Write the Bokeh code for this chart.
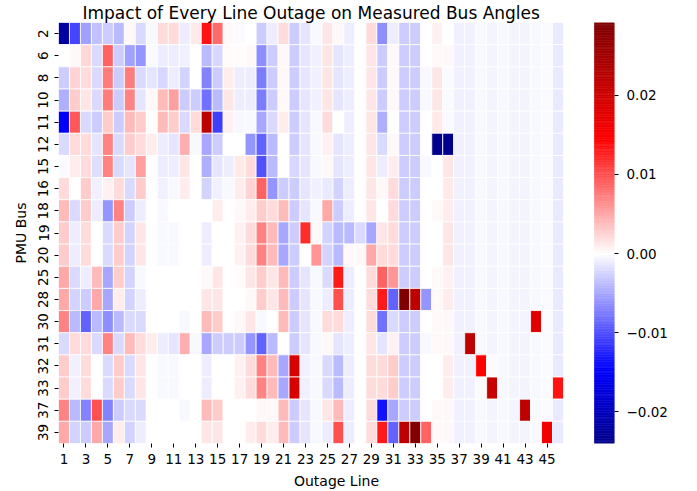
import numpy as np
from bokeh.plotting import figure
from bokeh.models import (LinearColorMapper, FixedTicker, ColumnDataSource,
                          Range1d, LinearAxis)
from bokeh.embed import file_html
from bokeh.resources import INLINE

# ---------------- data ----------------
pmu_buses = ["2", "6", "8", "10", "11", "12", "15", "16", "18", "19",
             "20", "25", "28", "30", "31", "32", "33", "37", "39"]
outage_lines = list(range(1, 47))
x_tick_values = list(range(1, 46, 2))
cbar_ticks = [-0.02, -0.01, 0.0, 0.01, 0.02]
cbar_tick_labels = ["\u22120.02", "\u22120.01", "0.00", "0.01", "0.02"]

tail = [-0.0008, -0.0008, -0.0004, -0.0006, -0.0004, -0.0007, -0.0007, -0.0004, -0.0003, -0.0012]

bus_2 = [-0.022, -0.0105, -0.0055, -0.0035, -0.003, -0.004, 0.0005, -0.002, -0.0005, 0.002,
         0.002, -0.001, 0.0012, 0.0135, 0.0085, 0.0005, -0.0002, 0.0, -0.003, -0.001,
         0.002, -0.003, -0.0015, -0.0005, 0.0015, 0.0005, -0.001, 0.0, 0.002, -0.0065,
         -0.001, -0.003, -0.003, 0.0, 0.0008, 0.0] + tail
bus_6 = [0.0, 0.0005, 0.0022, -0.002, 0.009, -0.003, -0.0055, -0.006, -0.0003, -0.001,
         -0.001, -0.0008, 0.0, -0.004, -0.0022, 0.0003, 0.0003, 0.0005, -0.0065, -0.003,
         0.0005, -0.003, -0.0015, -0.0008, 0.0015, -0.0015, -0.001, 0.0, 0.0015, -0.003,
         0.0005, -0.003, -0.003, 0.0, 0.0005, 0.0005] + tail
bus_8 = [-0.003, 0.0025, 0.002, -0.002, 0.0075, -0.003, 0.0075, -0.002, -0.0015, -0.0022,
         -0.001, -0.0025, 0.0, -0.007, -0.003, 0.001, -0.001, -0.001, -0.0075, -0.003,
         0.0005, -0.003, -0.0015, -0.0008, 0.0015, -0.0015, -0.001, 0.0, 0.0015, -0.003,
         0.0005, -0.003, -0.003, -0.0005, 0.0015, -0.0002] + tail
bus_10 = [-0.0045, 0.003, 0.0015, -0.002, 0.0075, -0.003, 0.007, -0.0015, 0.0005, 0.004,
          0.0055, -0.003, -0.003, -0.008, -0.004, 0.0015, -0.001, -0.001, -0.0075, -0.003,
          0.0005, -0.003, -0.0015, -0.0008, 0.0015, -0.0015, -0.001, 0.0, 0.0015, -0.003,
          0.0005, -0.003, -0.003, -0.0005, 0.0015, -0.0003] + tail
bus_11 = [-0.015, 0.0095, -0.002, -0.003, 0.003, -0.003, 0.004, 0.003, 0.0, 0.004,
          0.003, -0.002, 0.002, 0.0225, -0.011, 0.0008, -0.0005, -0.0005, -0.005, -0.002,
          0.001, -0.003, -0.0015, -0.0005, 0.002, 0.0, -0.001, 0.0, 0.0015, -0.0045,
          0.0, -0.003, -0.003, 0.0, 0.0012, -0.0002] + tail
bus_12 = [-0.002, 0.002, 0.002, -0.0015, 0.007, -0.002, 0.003, 0.002, 0.001, -0.001,
          -0.0015, 0.0045, -0.0005, -0.005, -0.003, 0.0, 0.0, -0.006, -0.009, -0.004,
          0.0, -0.003, -0.0015, -0.0005, 0.0008, -0.0015, -0.001, 0.0, 0.0015, -0.002,
          0.0005, -0.003, -0.003, 0.0, -0.024, -0.0236] + tail
bus_15 = [-0.0003, 0.001, 0.002, -0.0018, 0.007, -0.002, -0.0015, 0.0055, 0.0, -0.001,
          -0.001, 0.0015, 0.0, -0.0045, -0.0015, -0.001, 0.0012, 0.002, -0.01, -0.004,
          0.0, -0.0022, -0.0015, -0.0005, 0.0005, -0.0015, -0.001, 0.0, 0.0015, -0.001,
          0.001, -0.003, -0.003, -0.0005, 0.0, 0.0015] + tail
bus_16 = [0.002, 0.0, 0.003, -0.0008, 0.0008, 0.002, -0.002, 0.003, 0.0, -0.0008,
          -0.0005, 0.001, 0.0, -0.0025, -0.0008, -0.0005, 0.001, 0.0025, 0.009, -0.006,
          -0.003, -0.003, -0.0015, -0.0008, -0.0012, -0.0025, -0.001, 0.0, 0.0015, 0.0005,
          0.002, -0.003, -0.003, 0.0, 0.0, 0.0012] + tail
bus_18 = [0.004, -0.002, 0.003, -0.001, -0.006, 0.007, -0.003, -0.001, 0.0, -0.0005,
          0.0, 0.0, 0.0, 0.0, 0.001, 0.0, 0.0005, 0.001, 0.003, 0.002,
          0.004, -0.003, -0.0015, -0.0005, 0.005, -0.003, -0.001, 0.0, 0.0015, 0.0,
          0.002, -0.003, -0.003, 0.0, 0.0005, 0.001] + tail
bus_19 = [0.003, -0.001, 0.002, 0.0, -0.002, 0.003, -0.0025, 0.0015, 0.0, -0.0005,
          -0.0005, 0.0, 0.0, -0.001, 0.0, 0.0, 0.0008, 0.002, 0.007, 0.004,
          -0.005, -0.003, 0.012, 0.0005, -0.0025, -0.004, -0.004, -0.002, -0.005, 0.0015,
          0.002, -0.003, -0.003, 0.0, 0.0, 0.0015] + tail
bus_20 = [0.003, -0.001, 0.002, 0.0, -0.002, 0.003, -0.0025, 0.0015, 0.0, -0.0005,
          -0.0005, 0.0, 0.0, -0.001, 0.0, 0.0, 0.0008, 0.002, 0.007, 0.004,
          -0.005, -0.003, 0.0, 0.006, -0.0025, -0.004, 0.0005, 0.0005, 0.005, 0.002,
          0.002, -0.003, -0.003, 0.0, 0.0, 0.0015] + tail
bus_25 = [0.005, -0.002, -0.001, 0.004, -0.005, 0.003, -0.0025, -0.0005, 0.0, 0.0,
          0.0, 0.0, 0.0, 0.0005, 0.0015, 0.0, 0.0003, 0.0015, 0.003, 0.0015,
          0.004, -0.003, -0.0015, -0.0005, -0.002, 0.013, -0.001, 0.0, 0.002, 0.009,
          0.006, -0.003, -0.003, 0.0, 0.0005, 0.0008] + tail
bus_28 = [0.005, -0.0025, -0.003, 0.005, -0.005, 0.001, -0.0025, -0.001, 0.0, 0.0,
          0.0, 0.0, 0.0, 0.0015, 0.0015, 0.0, 0.0, 0.0005, 0.003, 0.0015,
          0.004, -0.003, -0.0015, -0.0005, -0.001, 0.01, -0.001, 0.0, 0.002, 0.013,
          -0.009, 0.0292, 0.022, -0.006, 0.0005, 0.001] + tail
bus_30 = [0.007, -0.004, -0.009, -0.004, -0.0065, -0.004, -0.002, -0.002, 0.0, 0.0,
          0.0, -0.0005, 0.0, 0.004, 0.003, 0.0, 0.0005, 0.0015, -0.0005, 0.0,
          0.004, -0.003, -0.0015, -0.0005, 0.002, 0.002, -0.001, 0.0, 0.002, -0.008,
          -0.002, -0.003, -0.003, 0.0, 0.0005, 0.0005,
          -0.0008, -0.0008, -0.0004, -0.0006, -0.0004, -0.0007, -0.0007, 0.018, -0.0003, -0.0012]
bus_31 = [-0.002, 0.002, 0.002, -0.002, 0.007, -0.002, 0.004, 0.002, 0.001, -0.001,
          -0.0015, 0.0045, -0.0005, -0.005, -0.003, -0.003, -0.003, -0.006, -0.009, -0.004,
          0.0, -0.003, -0.0015, -0.0005, 0.0005, -0.0015, -0.001, 0.0, 0.0015, -0.0015,
          0.0008, -0.003, -0.003, -0.0005, 0.0005, 0.0005,
          -0.0008, 0.022, -0.0004, -0.0006, -0.0004, -0.0007, -0.0007, -0.0004, -0.0003, -0.0012]
bus_32 = [0.003, -0.0008, 0.002, 0.0, -0.002, 0.003, -0.002, 0.0015, 0.0, -0.0005,
          -0.0005, 0.0, 0.0, -0.001, 0.0, 0.0, 0.0008, 0.002, 0.007, 0.004,
          -0.005, 0.019, -0.0008, -0.0005, -0.002, -0.004, -0.001, 0.0, 0.002, 0.002,
          0.003, -0.003, -0.003, 0.0, 0.0, 0.001,
          -0.0008, -0.0008, 0.0146, -0.0002, -0.0004, -0.0007, -0.0007, -0.0004, -0.0003, -0.0012]
bus_33 = [0.003, -0.0008, 0.002, 0.0, -0.002, 0.003, -0.002, 0.0015, 0.0, -0.0005,
          -0.0005, 0.0, 0.0, -0.001, 0.0, 0.0, 0.0008, 0.002, 0.007, 0.004,
          -0.005, 0.019, -0.0008, -0.0005, -0.002, -0.004, -0.001, 0.0, 0.002, 0.002,
          0.003, -0.003, -0.003, 0.0, 0.0, 0.001,
          -0.0008, -0.0008, -0.0002, 0.021, -0.0004, -0.0007, -0.0007, -0.0004, -0.0003, 0.0135]
bus_37 = [0.007, -0.004, -0.007, 0.01, -0.007, -0.003, -0.002, -0.002, 0.0, 0.0,
          0.0, -0.0005, 0.0, 0.004, 0.003, 0.0, 0.0, 0.0, 0.0005, 0.0005,
          0.004, -0.003, -0.0015, -0.0005, 0.0015, 0.004, -0.001, 0.0, 0.002, -0.0135,
          -0.005, -0.003, -0.003, 0.0, 0.0005, 0.0005,
          -0.0008, -0.0008, -0.0004, -0.0006, -0.0004, -0.0007, 0.022, -0.0004, -0.0003, -0.0012]
bus_39 = [0.005, -0.0025, -0.003, 0.005, -0.005, 0.001, -0.0025, -0.001, 0.0, 0.0,
          0.0, 0.0, 0.0, 0.0015, 0.0015, 0.0, 0.0, 0.001, 0.002, 0.001,
          0.004, -0.003, -0.0015, -0.0005, -0.001, 0.01, -0.001, 0.0, 0.002, 0.013,
          -0.009, 0.022, 0.0285, 0.009, 0.0005, 0.0005,
          -0.0008, -0.0008, -0.0004, -0.0006, -0.0004, -0.0007, -0.0007, -0.0004, 0.016, -0.0012]

rows = [bus_2, bus_6, bus_8, bus_10, bus_11, bus_12, bus_15, bus_16, bus_18, bus_19,
        bus_20, bus_25, bus_28, bus_30, bus_31, bus_32, bus_33, bus_37, bus_39]

# ---------------- colour map (seismic, centred at 0) ----------------
anchors = np.array([(0.0, 0.0, 0.3), (0.0, 0.0, 1.0), (1.0, 1.0, 1.0),
                    (1.0, 0.0, 0.0), (0.5, 0.0, 0.0)])
anchor_t = np.linspace(0, 1, 5)


def seismic(t):
    r = np.interp(t, anchor_t, anchors[:, 0])
    g = np.interp(t, anchor_t, anchors[:, 1])
    b = np.interp(t, anchor_t, anchors[:, 2])
    return "#%02x%02x%02x" % (int(round(r * 255)), int(round(g * 255)), int(round(b * 255)))


mat = np.array(rows, dtype=float)
vmin, vmax = float(mat.min()), float(mat.max())
vr = max(abs(vmin), abs(vmax))
NCOL = 256
palette = [seismic((v + vr) / (2 * vr)) for v in np.linspace(vmin, vmax, NCOL)]
mapper = LinearColorMapper(palette=palette, low=vmin, high=vmax)

n = len(pmu_buses)
ncols = len(outage_lines)
xs, ys, vs = [], [], []
for i, row in enumerate(rows):
    for j, v in enumerate(row):
        xs.append(outage_lines[j])
        ys.append(n - 1 - i)
        vs.append(v)
src = ColumnDataSource(dict(x=xs, y=ys, v=vs))

# ---------------- layout (pixels) ----------------
FONT = "DejaVu Sans"
HEAT_W = 505          # width of the heatmap cells area
GAP = 31              # gap between heatmap and colour bar
BAR_W = 20            # colour bar width
FW = HEAT_W + GAP + BAR_W
FH = 421
cell = HEAT_W / ncols
x0 = 0.5
x_end = x0 + FW / cell
bar_left = x0 + (HEAT_W + GAP) / cell

p = figure(frame_width=FW, frame_height=FH, output_backend="svg", toolbar_location=None,
           x_range=Range1d(x0, x_end), y_range=Range1d(-0.5, n - 0.5),
           min_border_left=58, min_border_top=19, min_border_bottom=44, min_border_right=12,
           title="Impact of Every Line Outage on Measured Bus Angles")
p.extra_y_ranges = {"cb": Range1d(vmin, vmax)}

p.title.text_font = FONT
p.title.text_font_size = "17px"
p.title.text_font_style = "normal"
p.title.text_color = "black"
p.title.align = "left"
p.title.offset = 24
p.title.standoff = 0

p.rect(x="x", y="y", width=1, height=1, source=src,
       fill_color={"field": "v", "transform": mapper},
       line_color="white", line_width=0.8)

# colour bar drawn from the palette on its own value range
edges = np.linspace(vmin, vmax, NCOL + 1)
cb_src = ColumnDataSource(dict(left=[bar_left] * NCOL, right=[x_end] * NCOL,
                               bottom=edges[:-1], top=edges[1:], c=palette))
p.quad(left="left", right="right", bottom="bottom", top="top", source=cb_src,
       fill_color="c", line_color="c", line_width=0.6, y_range_name="cb")

p.grid.visible = False
p.outline_line_color = None
p.background_fill_color = "white"

cb_axis = LinearAxis(y_range_name="cb")
p.add_layout(cb_axis, "right")

for ax in (p.xaxis[0], p.yaxis[0], cb_axis):
    ax.axis_line_color = None
    ax.major_tick_in = 0
    ax.major_tick_out = 4
    ax.minor_tick_line_color = None
    ax.major_tick_line_color = "black"
    ax.major_label_text_font = FONT
    ax.major_label_text_font_size = "13.5px"
    ax.major_label_text_color = "black"
    ax.axis_label_text_font = FONT
    ax.axis_label_text_font_size = "14px"
    ax.axis_label_text_font_style = "normal"
    ax.axis_label_text_color = "black"

p.xaxis.ticker = FixedTicker(ticks=x_tick_values)
p.xaxis.axis_label = "Outage Line"
p.xaxis.major_label_standoff = 6
p.xaxis.axis_label_standoff = 6

p.yaxis[0].ticker = FixedTicker(ticks=list(range(n)))
p.yaxis[0].major_label_overrides = {n - 1 - i: b for i, b in enumerate(pmu_buses)}
p.yaxis[0].major_label_orientation = "vertical"
p.yaxis[0].axis_label = "PMU Bus"
p.yaxis[0].major_label_standoff = 6
p.yaxis[0].axis_label_standoff = 7

cb_axis.ticker = FixedTicker(ticks=cbar_ticks)
cb_axis.major_label_overrides = {t: l for t, l in zip(cbar_ticks, cbar_tick_labels)}
cb_axis.major_label_standoff = 8

open("out.html", "w").write(file_html(p, INLINE))
